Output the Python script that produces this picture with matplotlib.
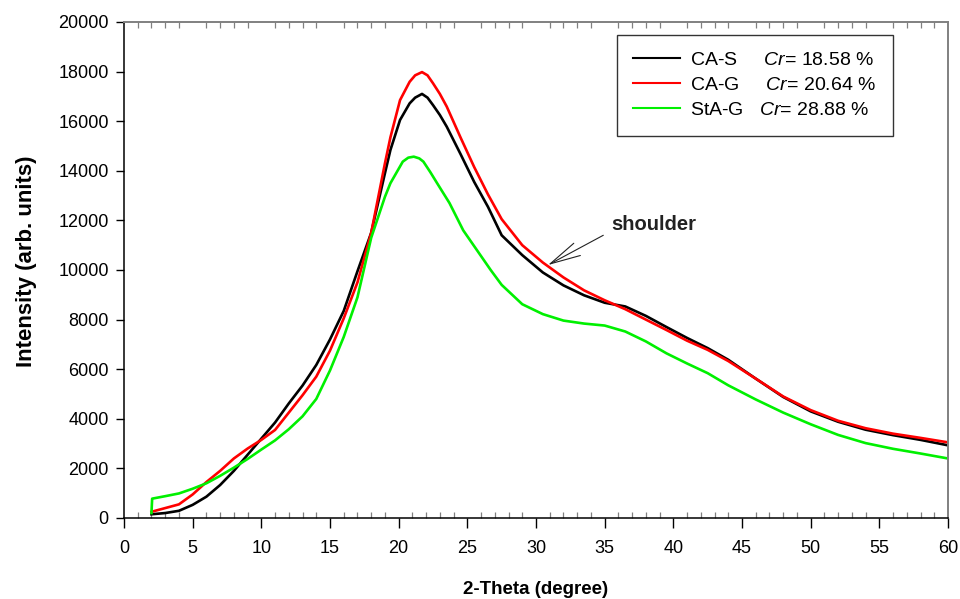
import matplotlib
matplotlib.use("Agg")
import matplotlib.pyplot as plt
import numpy as np

# ---- data ----
x_cas = [2, 3, 4, 5, 6, 7, 8, 9, 10, 11, 12, 13, 14, 15, 16, 17, 18, 19,
         19.4, 20.1, 20.8, 21.2, 21.7, 22.1, 22.5, 23.0, 23.5, 24.5, 25.5,
         26.5, 27.5, 29, 30.5, 32, 33.5, 35, 36.5, 38, 39.5, 41, 42.5, 44,
         46, 48, 50, 52, 54, 56, 58, 60]
y_cas = [150, 200, 290, 530, 860, 1330, 1900, 2550, 3200, 3850, 4620, 5340,
         6170, 7200, 8350, 9950, 11500, 13900, 14840, 16050, 16720, 16950,
         17100, 16950, 16650, 16250, 15780, 14680, 13550, 12550, 11400,
         10600, 9900, 9380, 8980, 8680, 8530, 8150, 7700, 7260, 6850, 6380,
         5620, 4880, 4300, 3880, 3560, 3340, 3150, 2930]

x_cag = [2, 3, 4, 5, 6, 7, 8, 9, 10, 11, 12, 13, 14, 15, 16, 17, 18, 19,
         19.4, 20.1, 20.8, 21.2, 21.7, 22.1, 22.5, 23.0, 23.5, 24.5, 25.5,
         26.5, 27.5, 29, 30.5, 32, 33.5, 35, 36.5, 38, 39.5, 41, 42.5, 44,
         46, 48, 50, 52, 54, 56, 58, 60]
y_cag = [250, 400, 550, 950, 1450, 1900, 2400, 2800, 3150, 3550, 4250, 4950,
         5700, 6750, 8050, 9500, 11500, 14300, 15350, 16850, 17590, 17850,
         17980, 17850, 17530, 17100, 16590, 15350, 14150, 13050, 12050,
         11000, 10300, 9700, 9180, 8780, 8420, 8000, 7580, 7150, 6780, 6330,
         5620, 4900, 4350, 3920, 3620, 3400, 3230, 3050]

x_stag = [2, 2.05, 3, 4, 5, 6, 7, 8, 9, 10, 11, 12, 13, 14, 15, 16, 17, 18,
          19, 19.4, 20.3, 20.7, 21.1, 21.5, 21.8, 22.3, 22.8, 23.7, 24.7,
          25.7, 26.7, 27.5, 29, 30.5, 32, 33.5, 35, 36.5, 38, 39.5, 41, 42.5,
          44, 46, 48, 50, 52, 54, 56, 58, 60]
y_stag = [200, 780, 880, 990, 1180, 1400, 1700, 2030, 2380, 2760, 3130, 3580,
          4100, 4800, 5950, 7300, 8900, 11300, 12950, 13500, 14370, 14530,
          14570, 14500, 14370, 13950, 13500, 12700, 11600, 10800, 10000, 9400,
          8620, 8220, 7960, 7840, 7760, 7520, 7120, 6640, 6230, 5840, 5350,
          4780, 4250, 3780, 3350, 3020, 2790, 2600, 2400]

labels = ["CA-S", "CA-G", "StA-G"]
cr_values = ["18.58", "20.64", "28.88"]

plt.rcParams['font.family'] = ['Liberation Sans', 'DejaVu Sans']
plt.rcParams['mathtext.fontset'] = 'custom'
plt.rcParams['mathtext.rm'] = 'Liberation Sans'
plt.rcParams['mathtext.it'] = 'Liberation Sans:italic'

fig = plt.figure(figsize=(9.6, 5.99), dpi=100)
ax = fig.add_axes([124/960, 1-518/599, (948-124)/960, (518-22)/599])

lw = 1.9
ax.plot(x_cas, y_cas, color='black', lw=lw,
        label=f"{labels[0]}     $\\mathit{{Cr}}$= {cr_values[0]} %")
ax.plot(x_cag, y_cag, color='#ff0000', lw=lw,
        label=f"{labels[1]}     $\\mathit{{Cr}}$= {cr_values[1]} %")
ax.plot(x_stag, y_stag, color='#00f000', lw=lw,
        label=f"{labels[2]}   $\\mathit{{Cr}}$= {cr_values[2]} %")

ax.set_xlim(0, 60)
ax.set_ylim(0, 20000)
ax.set_xticks(np.arange(0, 61, 5))
ax.set_xticks(np.arange(0, 61, 1), minor=True)
ax.set_yticks(np.arange(0, 20001, 2000))

for s in ['left', 'bottom']:
    ax.spines[s].set_linewidth(1.1)
    ax.spines[s].set_color('black')
for s in ['top', 'right']:
    ax.spines[s].set_linewidth(1.4)
    ax.spines[s].set_color('#808080')

ax.tick_params(axis='x', which='major', direction='out', length=7, width=1.0,
               labelsize=13, pad=9, color='black', top=False)
ax.tick_params(axis='x', which='minor', direction='in', length=4, width=0.9,
               color='#808080', top=True)
ax.tick_params(axis='y', which='major', direction='out', length=6, width=1.0,
               labelsize=13, pad=5)

ax.set_xlabel("2-Theta (degree)", fontsize=13.5, fontweight='bold')
ax.xaxis.set_label_coords(0.5, (518 - 589) / 496, transform=ax.transAxes)
ax.xaxis.label.set_va('center')
ax.set_ylabel("Intensity (arb. units)", fontsize=16, fontweight='bold')
ax.yaxis.set_label_coords((26 - 124) / 824, (518 - 261) / 496, transform=ax.transAxes)
ax.yaxis.label.set_va('center')

leg = ax.legend(loc='upper right', bbox_to_anchor=(893/960, 1-35/599),
                bbox_transform=fig.transFigure, borderaxespad=0,
                fontsize=14, frameon=True, fancybox=False,
                handlelength=2.4, handletextpad=0.55, labelspacing=0.38,
                borderpad=0.85)
leg.get_frame().set_edgecolor('black')
leg.get_frame().set_linewidth(1.0)
for h in leg.get_lines():
    h.set_linewidth(1.5)

ax.annotate('', xy=(30.87, 10200), xytext=(34.9, 11400),
            arrowprops=dict(arrowstyle='->,head_length=2.2,head_width=0.5',
                            lw=0.8, color='#222222', mutation_scale=10,
                            shrinkA=0, shrinkB=0))
ax.text(35.5, 11850, "shoulder", fontsize=14.5, fontweight='bold',
        color='#222222', ha='left', va='center')

fig.savefig("out.png", dpi=100)
